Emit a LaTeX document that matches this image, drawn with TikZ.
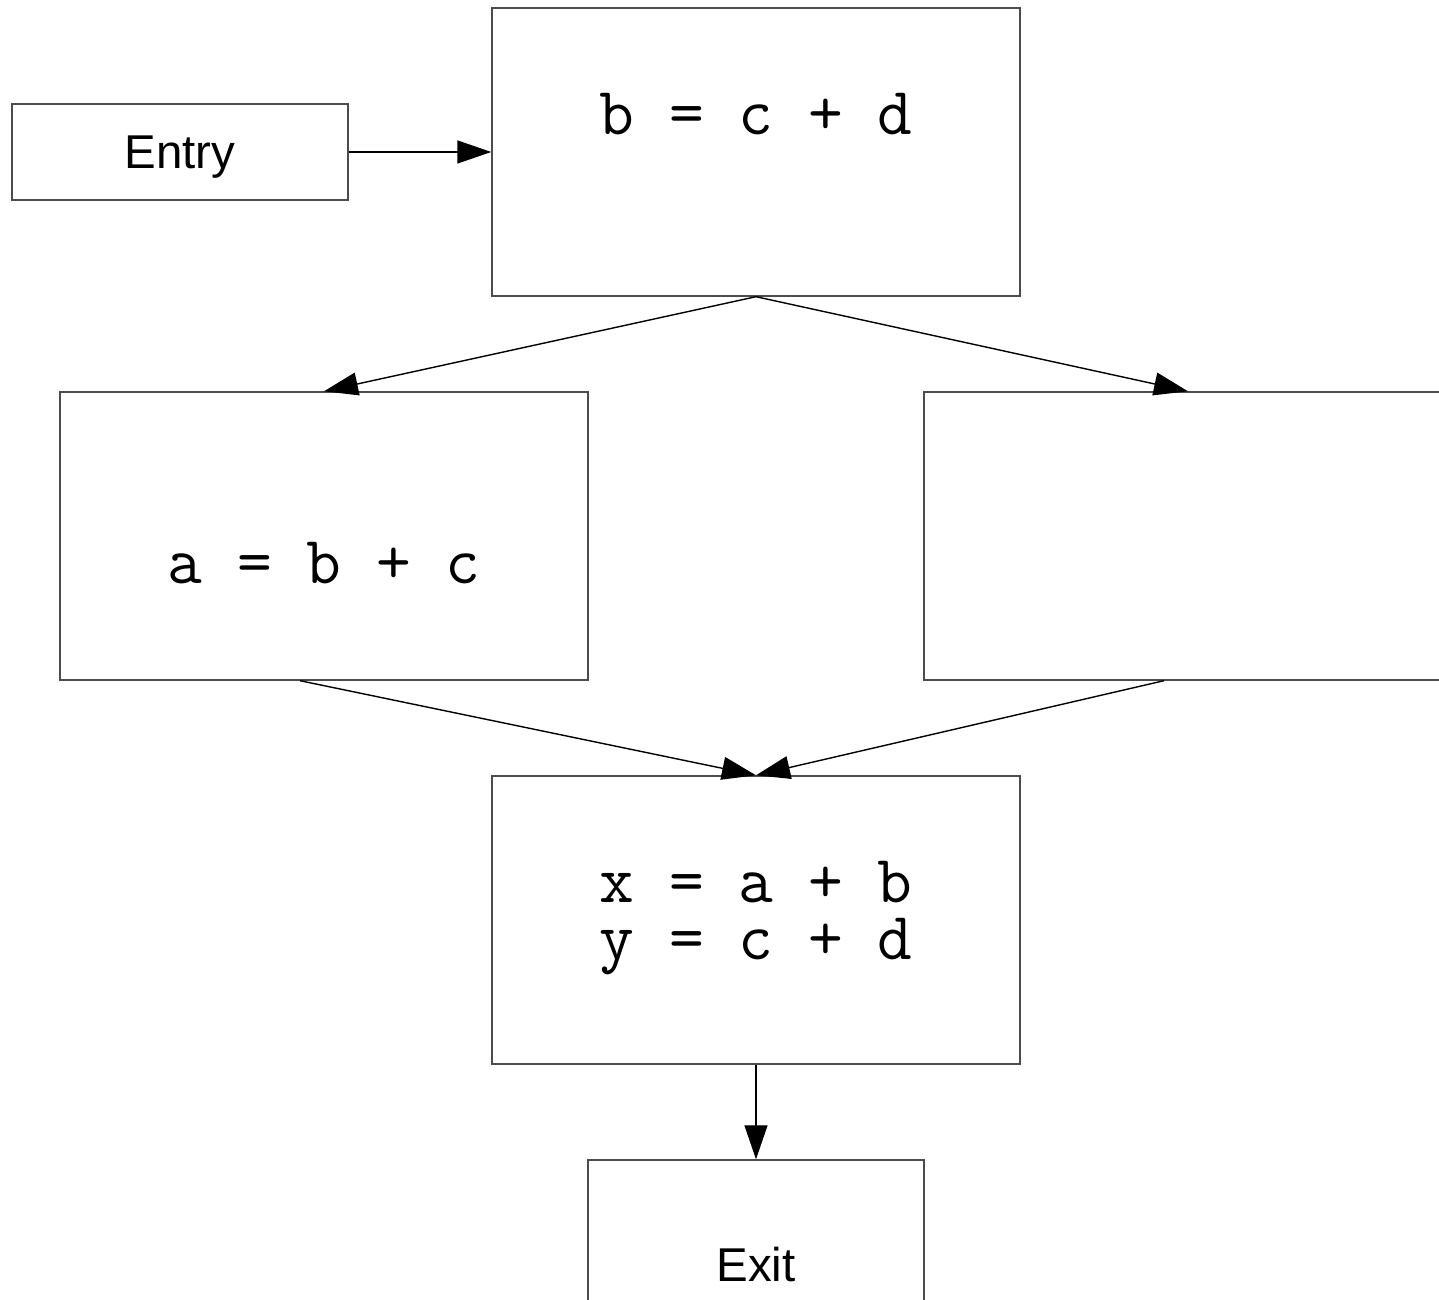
\documentclass[tikz,border=0pt]{standalone}
\usepackage{fontspec}
\setmainfont{Liberation Sans}
\usetikzlibrary{arrows.meta}

\begin{document}
\begin{tikzpicture}[>={Triangle[length=0.34cm,width=0.23cm]},
  block/.style={draw=black!70, line width=0.4pt, rectangle, inner sep=0pt,
    minimum width=5.28cm, minimum height=2.88cm},
  small/.style={block, minimum width=3.36cm},
  term/.style={small, minimum height=0.96cm},
  code/.style={font=\ttfamily\fontsize{19.2}{23}\selectfont, inner sep=0pt, anchor=base},
  word/.style={font=\fontsize{13.5}{16}\selectfont, inner sep=0pt, anchor=base},
  flow/.style={->, line width=0.4pt}]
  \useasboundingbox (0,0) rectangle (14.39,-13);
  \clip (0,0) rectangle (14.39,-13);

  % Blocks
  \node[term]  (entry) at (1.80,-1.52) {};
  \node[block] (top)   at (7.56,-1.52) {};
  \node[block] (left)  at (3.24,-5.36) {};
  \node[block] (right) at (11.88,-5.36) {};
  \node[block] (join)  at (7.56,-9.20) {};
  \node[small] (exit)  at (7.56,-13.04) {};

  % Block contents
  \node[word] (entrytext) at ([yshift=-0.65cm]entry.north) {Entry};
  \node[code] (toptext)   at ([yshift=-1.27cm]top.north) {b = c + d};
  \node[code] (lefttext)  at ([yshift=-1.92cm]left.north) {a = b + c};
  \node[code] (jointext)  at ([yshift=-1.27cm]join.north) {x = a + b};
  \node[code] (jointwo)   at ([yshift=-1.84cm]join.north) {y = c + d};
  \node[word] (exittext)  at ([yshift=-1.22cm]exit.north) {Exit};

  % Edges
  \draw[flow] (entry.east) -- (top.west);
  \draw[flow] (top.south) -- (left.north);
  \draw[flow] (top.south) -- (right.north);
  \draw[flow] ([xshift=-0.24cm]left.south) -- (join.north);
  \draw[flow] ([xshift=-0.24cm]right.south) -- (join.north);
  \draw[flow] (join.south) -- (exit.north);
\end{tikzpicture}
\end{document}
